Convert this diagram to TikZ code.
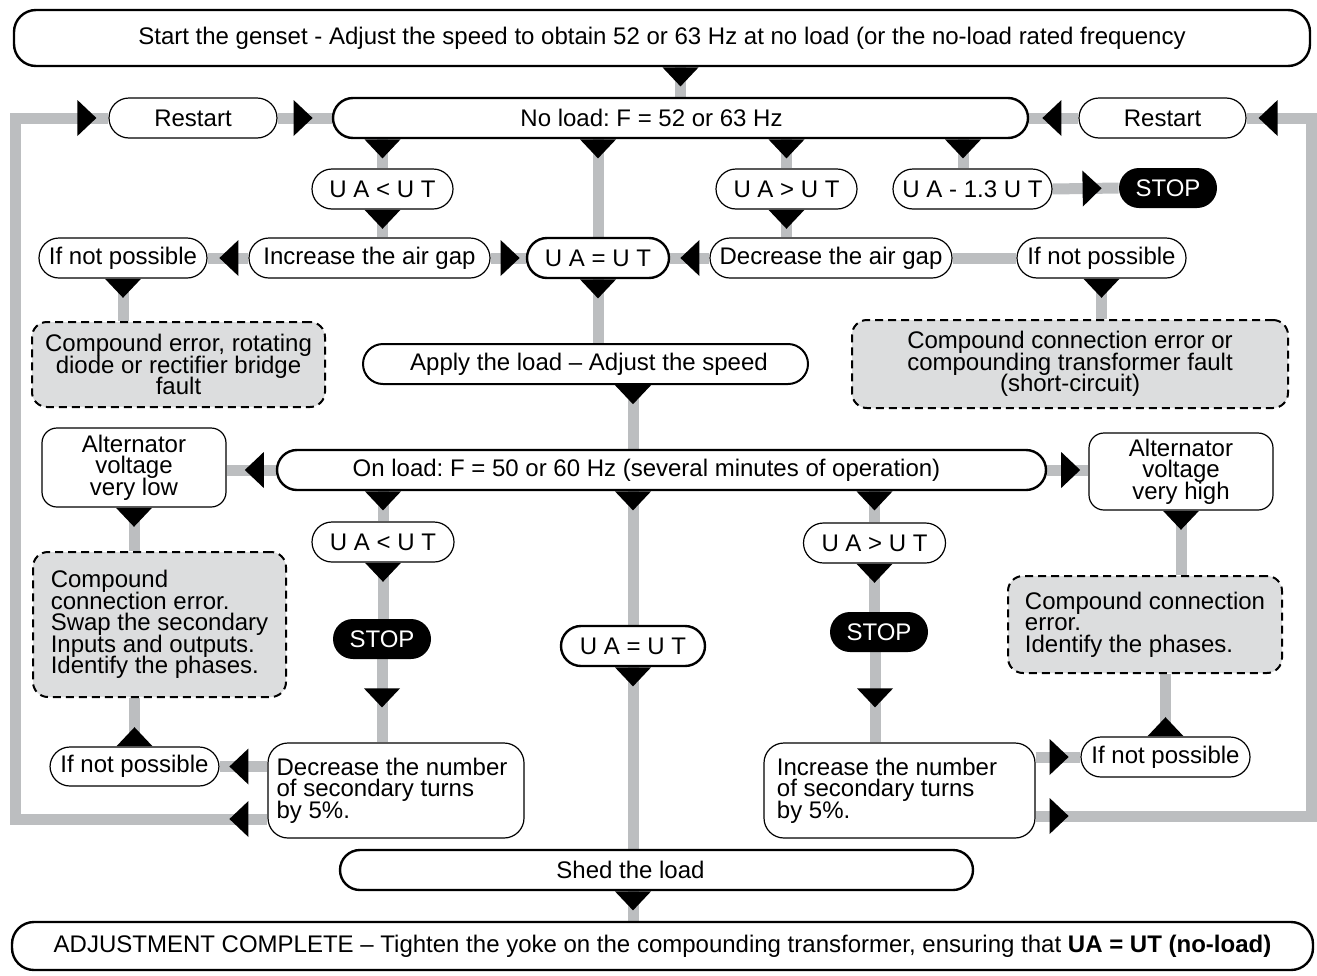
\documentclass[tikz,border=0pt]{standalone}
\usepackage{fontspec}
\setmainfont{Liberation Sans}
\usetikzlibrary{decorations.markings,calc}
\definecolor{conngray}{HTML}{BCBEC0}
\definecolor{errfill}{HTML}{DCDDDE}
\pgfdeclarelayer{bg}
\pgfsetlayers{bg,main}
\frenchspacing
\newcommand\tightlines{\lineskiplimit=-20pt\relax\lineskip=0pt\relax}
\begin{document}
\begin{tikzpicture}[x=0.5pt,y=-0.5pt,
  every node/.style={font=\fontsize{12pt}{10.8pt}\selectfont\tightlines, inner sep=0pt, align=center},
  sz/.style 2 args={minimum width=#1*0.5pt, minimum height=#2*0.5pt},
  pill/.style={draw, fill=white, rectangle, rounded corners=10pt, line width=0.6pt},
  thick pill/.style={pill, line width=1.2pt},
  stopbox/.style={fill=black, text=white, rectangle, rounded corners=10pt},
  errbox/.style={draw, fill=errfill, rectangle, rounded corners=7.5pt, line width=1pt, dash pattern=on 4pt off 2.5pt},
  link/.style={draw=conngray, line width=5.5pt},
  tri/.style={postaction={decorate, decoration={markings, mark=at position #1 with {\fill[black] (0pt,9pt) -- (9.5pt,0pt) -- (0pt,-9pt) -- cycle;}}}}
]
\useasboundingbox (0,0) rectangle (1317,975);

% nodes
\node[thick pill, rounded corners=11pt, sz={1296}{56}] (start) at (662,38) {Start the genset - Adjust the speed to obtain 52 or 63 Hz at no load (or the no-load rated frequency};
\node[pill, sz={168}{40}] (restartL) at (193,118) {Restart};
\node[thick pill, sz={695}{40}] (noload) at (680.5,118) {\hspace*{-29pt}No load: F = 52 or 63 Hz};
\node[pill, sz={167}{40}] (restartR) at (1162.5,118) {Restart};
\node[pill, sz={141}{40}] (ualt1) at (382.5,189) {U A < U T};
\node[pill, sz={141}{40}] (uagt1) at (786.5,189) {U A > U T};
\node[pill, sz={159}{40}] (ua13) at (972.5,189) {U A - 1.3 U T};
\node[stopbox, sz={98}{40}] (stop1) at (1168,188) {STOP};
\node[pill, sz={168}{40}] (ifnotL1) at (123,258) {If not possible};
\node[pill, sz={241}{40}] (incgap) at (369.5,258) {Increase the air gap};
\node[thick pill, sz={142}{40}] (uaeq1) at (598,258) {U A = U T};
\node[pill, sz={242}{40}] (decgap) at (831,258) {Decrease the air gap};
\node[pill, sz={169}{40}] (ifnotR1) at (1101.5,258) {If not possible};
\node[errbox, sz={293}{85}] (errL1) at (178.5,364.5) {Compound error, rotating\\diode or rectifier bridge\\fault};
\node[pill, line width=1pt, sz={445}{40}] (apply) at (585.5,364) {\hspace*{3.5pt}Apply the load – Adjust the speed};
\node[errbox, sz={436}{88}] (errR1) at (1070,364) {Compound connection error or\\compounding transformer fault\\(short-circuit)};
\node[pill, rounded corners=7.5pt, sz={184}{79}] (altlow) at (134,467.5) {Alternator\\voltage\\very low};
\node[thick pill, sz={769}{40}] (onload) at (661.5,470) {\hspace*{-15pt}On load: F = 50 or 60 Hz (several minutes of operation)};
\node[pill, rounded corners=7.5pt, sz={184}{77}] (althigh) at (1181,471.5) {Alternator\\voltage\\very high};
\node[pill, sz={142}{40}] (ualt2) at (383,542) {U A < U T};
\node[pill, sz={142}{40}] (uagt2) at (874.5,543) {U A > U T};
\node[errbox, align=left, sz={253}{145}] (errLL) at (159.5,624.5) {Compound\\connection error.\\Swap the secondary\\Inputs and outputs.\\Identify the phases.};
\node[stopbox, sz={98}{40}] (stop2) at (382,639) {STOP};
\node[thick pill, sz={144}{40}] (uaeq2) at (633,646) {U A = U T};
\node[stopbox, sz={98}{40}] (stop3) at (879,632) {STOP};
\node[errbox, align=left, sz={274}{97}] (errRR) at (1145,624.5) {Compound connection\\error.\\Identify the phases.};
\node[pill, sz={169}{39}] (ifnotLL) at (134.5,766.5) {If not possible};
\node[pill, align=left, sz={256}{95}] (decnum) at (396,790.5) {\hspace*{-4pt}Decrease the number\\\hspace*{-4pt}of secondary turns\\\hspace*{-4pt}by 5\%.};
\node[pill, align=left, sz={271}{95}] (incnum) at (899.5,790.5) {\hspace*{-12.5pt}Increase the number\\\hspace*{-12.5pt}of secondary turns\\\hspace*{-12.5pt}by 5\%.};
\node[pill, sz={169}{40}] (ifnotRR) at (1165.5,757) {If not possible};
\node[thick pill, sz={633}{40}] (shed) at (656.5,870) {\hspace*{-26pt}Shed the load};
\node[thick pill, rounded corners=11pt, sz={1301}{48}] (adjust) at (662.5,946) {ADJUSTMENT COMPLETE – Tighten the yoke on the compounding transformer, ensuring that \textbf{UA = UT (no-load)}};

\coordinate (ua13top) at ([xshift=-4.75pt]ua13.north);
\coordinate (stop3top) at ([xshift=-2pt]stop3.north);
\coordinate (stop3bot) at ([xshift=-2pt]stop3.south);
\coordinate (loopL) at (15,819);
\coordinate (loopR) at (1311,816);

% connectors
\begin{pgfonlayer}{bg}
\draw[link, tri=0.1pt] (start.south -| noload) -- (noload.north);
\draw[link, tri=8pt] (restartL.east) -- (noload.west);
\draw[link, tri=8.5pt] (restartR.west) -- (noload.east);
\draw[link, tri=0.1pt] (ualt1 |- noload.south) -- (ualt1.north);
\draw[link, tri=0.1pt] (uaeq1 |- noload.south) -- (uaeq1.north);
\draw[link, tri=0.1pt] (uagt1 |- noload.south) -- (uagt1.north);
\draw[link, tri=0.1pt] (ua13top |- noload.south) -- (ua13top);
\draw[link, tri=15pt] (ua13.east) -- (stop1.west);
\draw[link, tri=0.1pt] (ualt1.south) -- (ualt1.south |- incgap.north);
\draw[link, tri=0.1pt] (uagt1.south) -- (uagt1.south |- decgap.north);
\draw[link, tri=5pt] (incgap.east) -- (uaeq1.west);
\draw[link, tri=5pt] (decgap.west) -- (uaeq1.east);
\draw[link, tri=5pt] (incgap.west) -- (ifnotL1.east);
\draw[link] (decgap.east) -- (ifnotR1.west);
\draw[link, tri=0.1pt] (ifnotL1.south) -- (ifnotL1.south |- errL1.north);
\draw[link, tri=0.1pt] (ifnotR1.south) -- (ifnotR1.south |- errR1.north);
\draw[link, tri=0.1pt] (uaeq1.south) -- (uaeq1.south |- apply.north);
\draw[link, tri=0.1pt] (uaeq2 |- apply.south) -- (uaeq2 |- onload.north);
\draw[link, tri=6pt] (onload.west) -- (onload.west -| altlow.east);
\draw[link, tri=7pt] (onload.east) -- (onload.east -| althigh.west);
\draw[link, tri=0.1pt] (ualt2 |- onload.south) -- (ualt2.north);
\draw[link, tri=0.1pt] (uaeq2 |- onload.south) -- (uaeq2.north);
\draw[link, tri=0.1pt] (uagt2 |- onload.south) -- (uagt2.north);
\draw[link, tri=0.1pt] (ualt2.south) -- (ualt2.south |- stop2.north);
\draw[link, tri=0.1pt] (uagt2.south) -- (uagt2.south |- stop3top);
\draw[link, tri=14.5pt] (stop2.south) -- (stop2.south |- decnum.north);
\draw[link, tri=18pt] (stop3bot) -- (stop3bot |- incnum.north);
\draw[link, tri=0.1pt] (uaeq2.south) -- (uaeq2.south |- shed.north);
\draw[link, tri=0.1pt] (shed.south -| uaeq2) -- (adjust.north -| uaeq2);
\draw[link, tri=0.1pt] (altlow.south) -- (altlow.south |- errLL.north);
\draw[link, tri=0.1pt] (althigh.south) -- (althigh.south |- errRR.north);
\draw[link, tri=0.1pt] (ifnotLL.north) -- (ifnotLL.north |- errLL.south);
\draw[link, tri=0.1pt] (ifnotRR.north) -- (ifnotRR.north |- errRR.south);
\draw[link, tri=9.5pt] (decnum.west |- ifnotLL) -- (ifnotLL.east);
\draw[link, tri=7pt] (incnum.east |- ifnotRR) -- (ifnotRR.west);
\draw[link, tri=9.5pt, tri=-15.5pt] (decnum.west |- loopL) -- (loopL) -- (loopL |- restartL) -- (restartL.west);
\draw[link, tri=7pt, tri=-15.5pt] (incnum.east |- loopR) -- (loopR) -- (loopR |- restartR) -- (restartR.east);
\end{pgfonlayer}
\end{tikzpicture}
\end{document}
